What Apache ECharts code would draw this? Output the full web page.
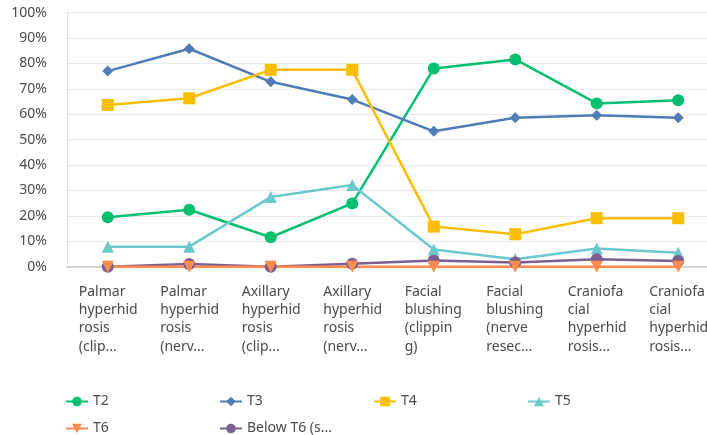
<!DOCTYPE html>
<html>
<head>
<meta charset="utf-8">
<script src="https://cdn.jsdelivr.net/npm/echarts@6/dist/echarts.min.js"></script>
<style>
  html, body { margin: 0; padding: 0; background: #fff; }
  #main { width: 707px; height: 435px; }
</style>
</head>
<body>
<div id="main"></div>
<script>
var categories = [
  'Palmar hyperhidrosis (clipping)',
  'Palmar hyperhidrosis (nerve resection)',
  'Axillary hyperhidrosis (clipping)',
  'Axillary hyperhidrosis (nerve resection)',
  'Facial blushing (clipping)',
  'Facial blushing (nerve resection)',
  'Craniofacial hyperhidrosis (clipping)',
  'Craniofacial hyperhidrosis (nerve resection)'
];
var yTicks = [0, 10, 20, 30, 40, 50, 60, 70, 80, 90, 100];

var t2 = [19.5, 22.4, 11.6, 24.9, 78.0, 81.6, 64.3, 65.5];
var t3 = [77.0, 85.8, 72.8, 65.8, 53.3, 58.6, 59.6, 58.6];
var t4 = [63.7, 66.3, 77.5, 77.5, 15.8, 12.8, 19.1, 19.1];
var t5 = [7.9, 7.9, 27.4, 32.2, 6.8, 2.9, 7.2, 5.5];
var t6 = [0, 0, 0, 0, 0, 0, 0, 0];
var belowT6 = [0, 1.1, 0, 1.2, 2.4, 1.7, 2.9, 2.2];

// wrap a label like the survey export does: 8 chars a line, 4 lines max
function wrapLabel(text) {
  var words = text.split(' ');
  var lines = [];
  var cur = '';
  words.forEach(function (w) {
    if (cur && (cur + ' ' + w).length <= 8) {
      cur = cur + ' ' + w;
      return;
    }
    if (cur) lines.push(cur);
    while (w.length > 8) {
      lines.push(w.slice(0, 8));
      w = w.slice(8);
    }
    cur = w;
  });
  if (cur) lines.push(cur);
  if (lines.length > 4) {
    lines = lines.slice(0, 3).concat([lines[3].slice(0, 5) + '...']);
  }
  return lines.map(function (l) { return '{a|' + l + '}'; }).join('\n');
}

var textColor = '#4a4a4a';
var font = 'Noto Sans';

function makeSeries(name, data, color, symbol, size, extra) {
  var s = {
    name: name,
    type: 'line',
    data: data,
    symbol: symbol,
    symbolSize: size,
    itemStyle: { color: color },
    lineStyle: { color: color, width: 2.5 },
    emphasis: { disabled: true },
    animation: false
  };
  return Object.assign(s, extra || {});
}

var chart = echarts.init(document.getElementById('main'));
var option = {
  backgroundColor: '#fff',
  textStyle: { fontFamily: font },
  // plot runs past the right edge of the picture, as in the export
  grid: {
    left: 67, top: 12.7, width: 652, height: 254,
    containLabel: false,
    outerBoundsMode: 'none'
  },
  legend: {
    left: 60,
    top: 388,
    width: 640,
    itemWidth: 22,
    itemHeight: 12,
    itemGap: 10,
    textStyle: {
      color: textColor,
      fontFamily: font,
      fontSize: 14,
      lineHeight: 17,
      width: 116,
      overflow: 'truncate'
    },
    formatter: function (name) {
      return name.length > 11 ? name.slice(0, 11) + '...' : name;
    }
  },
  xAxis: {
    type: 'category',
    data: categories,
    boundaryGap: true,
    axisLine: { show: true, lineStyle: { color: '#d3d3d3', width: 2 } },
    axisTick: { show: false },
    splitLine: { show: false },
    axisLabel: {
      interval: 0,
      align: 'center',
      margin: 16,
      formatter: wrapLabel,
      rich: {
        a: {
          width: 58,
          align: 'left',
          color: textColor,
          fontFamily: font,
          fontSize: 14,
          lineHeight: 18.3
        }
      }
    }
  },
  yAxis: {
    type: 'value',
    min: yTicks[0],
    max: yTicks[yTicks.length - 1],
    interval: 10,
    axisLine: { show: true, lineStyle: { color: '#e3e3e3', width: 1 } },
    axisTick: { show: false },
    splitLine: { lineStyle: { color: '#ebebeb', width: 1 } },
    axisLabel: {
      margin: 20,
      color: textColor,
      fontFamily: font,
      fontSize: 14,
      formatter: '{value}%'
    }
  },
  series: [
    makeSeries('T2', t2, '#00bf6f', 'circle', 12),
    makeSeries('T3', t3, '#507cb6', 'diamond', 11),
    makeSeries('T4', t4, '#f9be00', 'rect', 12),
    makeSeries('T5', t5, '#6bc8cd', 'triangle', 12),
    makeSeries('Below T6 (sympathetic chain)', belowT6, '#7d5e90', 'circle', 12),
    makeSeries('T6', t6, '#ff8b4f', 'triangle', 12, { symbolRotate: 180 })
  ]
};
// legend order as in the picture
option.legend.data = ['T2', 'T3', 'T4', 'T5', 'T6', 'Below T6 (sympathetic chain)'];
chart.setOption(option);
</script>
</body>
</html>
